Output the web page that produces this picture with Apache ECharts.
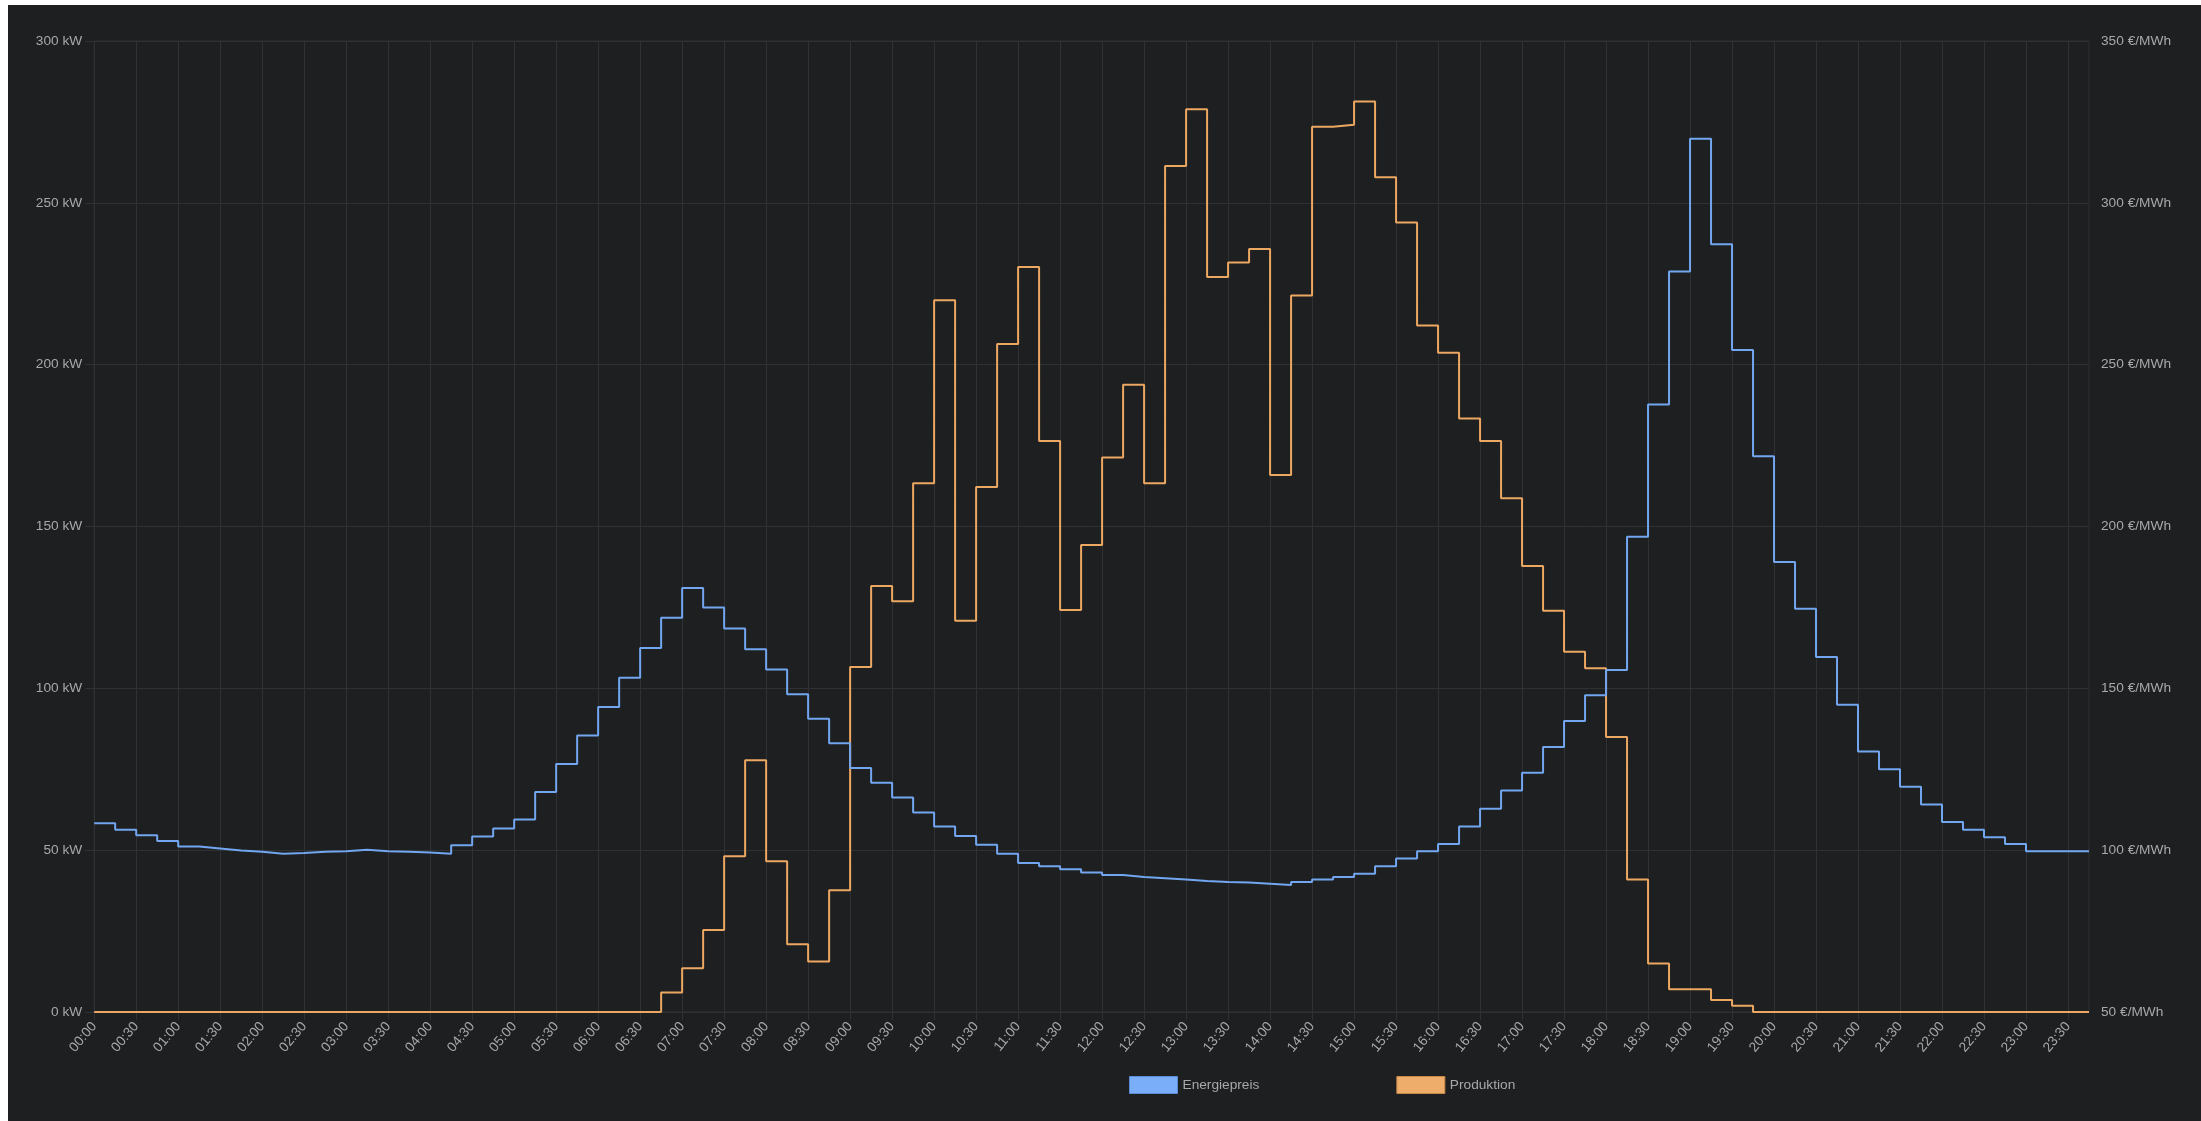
<!DOCTYPE html>
<html>
<head>
    <meta charset="utf-8">
    <title>Energiepreis / Produktion</title>
    <script src="https://cdn.jsdelivr.net/npm/echarts@6/dist/echarts.min.js"></script>
    <style>
        body { margin: 0; background: #ffffff; }
        #main { position: absolute; left: 8px; top: 5px; width: 2193px; height: 1116px; background: #1e1f21; }
    </style>
</head>
<body>
    <div id="main"></div>
    <script>
        // Zeitachse, 15-Minuten-Raster
        var times = [
            '00:00','00:15','00:30','00:45','01:00','01:15','01:30','01:45',
            '02:00','02:15','02:30','02:45','03:00','03:15','03:30','03:45',
            '04:00','04:15','04:30','04:45','05:00','05:15','05:30','05:45',
            '06:00','06:15','06:30','06:45','07:00','07:15','07:30','07:45',
            '08:00','08:15','08:30','08:45','09:00','09:15','09:30','09:45',
            '10:00','10:15','10:30','10:45','11:00','11:15','11:30','11:45',
            '12:00','12:15','12:30','12:45','13:00','13:15','13:30','13:45',
            '14:00','14:15','14:30','14:45','15:00','15:15','15:30','15:45',
            '16:00','16:15','16:30','16:45','17:00','17:15','17:30','17:45',
            '18:00','18:15','18:30','18:45','19:00','19:15','19:30','19:45',
            '20:00','20:15','20:30','20:45','21:00','21:15','21:30','21:45',
            '22:00','22:15','22:30','22:45','23:00','23:15','23:30','23:45'
        ];

        // Energiepreis in €/MWh
        var energiepreis = [
            108.3, 106.3, 104.6, 102.8, 101.1, 100.5, 99.9, 99.5,
            98.9, 99.1, 99.5, 99.7, 100.1, 99.7, 99.5, 99.3,
            98.9, 101.5, 104.2, 106.7, 109.5, 118.0, 126.6, 135.4,
            144.2, 153.3, 162.5, 171.8, 181.0, 175.0, 168.5, 162.1,
            155.8, 148.2, 140.6, 133.0, 125.4, 120.8, 116.3, 111.6,
            107.3, 104.4, 101.7, 98.9, 96.0, 95.0, 94.1, 93.1,
            92.3, 91.7, 91.3, 90.9, 90.5, 90.2, 90.0, 89.6,
            89.2, 90.2, 90.9, 91.7, 92.7, 95.0, 97.4, 99.7,
            101.9, 107.3, 112.8, 118.4, 123.9, 131.9, 139.9, 147.9,
            155.7, 196.8, 237.7, 278.8, 319.8, 287.2, 254.5, 221.7,
            189.0, 174.6, 159.7, 144.9, 130.5, 125.0, 119.6, 114.1,
            108.7, 106.3, 104.0, 101.9, 99.7, 99.7, 99.7, 99.7
        ];

        // Produktion in kW (letzter Wert fehlt)
        var produktion = [
            0, 0, 0, 0, 0, 0, 0, 0,
            0, 0, 0, 0, 0, 0, 0, 0,
            0, 0, 0, 0, 0, 0, 0, 0,
            0, 0, 0, 6.0, 13.5, 25.3, 48.1, 77.8,
            46.6, 20.9, 15.6, 37.6, 106.6, 131.6, 126.9, 163.4,
            219.9, 120.9, 162.2, 206.4, 230.2, 176.4, 124.2, 144.3,
            171.3, 193.8, 163.4, 261.4, 278.9, 227.1, 231.6, 235.7,
            165.9, 221.4, 273.5, 274.1, 281.3, 257.9, 243.9, 212.1,
            203.7, 183.4, 176.4, 158.7, 137.8, 124.0, 111.3, 106.2,
            85.0, 40.9, 15.0, 7.0, 7.0, 3.7, 1.9, 0,
            0, 0, 0, 0, 0, 0, 0, 0,
            0, 0, 0, 0, 0, 0, 0, null
        ];

        var gridColor = '#303134';
        var textColor = '#a8a8a8';
        var fontFamily = 'Liberation Sans, Arial, sans-serif';

        var myChart = echarts.init(document.getElementById('main'));

        var option = {
            animation: false,
            backgroundColor: '#1e1f21',
            grid: {
                left: 86.2,
                right: 112,
                top: 36,
                bottom: 109,
                show: true,
                borderColor: gridColor,
                borderWidth: 1
            },
            legend: {
                left: 1121,
                top: 1071,
                padding: 0,
                icon: 'rect',
                itemWidth: 48,
                itemHeight: 17,
                itemGap: 137,
                textStyle: { color: textColor, fontSize: 13.7, fontFamily: fontFamily },
                data: [
                    { name: 'Energiepreis', itemStyle: { color: '#7aaef8', borderColor: '#5a8cd6', borderWidth: 1 } },
                    { name: 'Produktion', itemStyle: { color: '#efad6b', borderColor: '#c78948', borderWidth: 1 } }
                ]
            },
            xAxis: {
                type: 'category',
                boundaryGap: false,
                data: times,
                axisLine: { show: false },
                axisTick: { show: true, interval: 1, length: 8, lineStyle: { color: gridColor } },
                axisLabel: {
                    interval: 1,
                    rotate: 50,
                    margin: 12,
                    color: textColor,
                    fontSize: 13.7,
                    fontFamily: fontFamily
                },
                splitLine: { show: true, interval: 1, lineStyle: { color: gridColor, width: 1 } }
            },
            yAxis: [
                {
                    type: 'value',
                    min: 0,
                    max: 300,
                    interval: 50,
                    axisLine: { show: false },
                    axisTick: { show: true, length: 9, lineStyle: { color: gridColor } },
                    axisLabel: {
                        formatter: '{value} kW',
                        margin: 12,
                        color: textColor,
                        fontSize: 13.7,
                        fontFamily: fontFamily
                    },
                    splitLine: { show: true, lineStyle: { color: gridColor, width: 1 } }
                },
                {
                    type: 'value',
                    min: 50,
                    max: 350,
                    interval: 50,
                    position: 'right',
                    axisLine: { show: false },
                    axisTick: { show: false },
                    axisLabel: {
                        formatter: '{value} €/MWh',
                        margin: 12,
                        color: textColor,
                        fontSize: 13.7,
                        fontFamily: fontFamily
                    },
                    splitLine: { show: false }
                }
            ],
            series: [
                {
                    name: 'Produktion',
                    type: 'line',
                    yAxisIndex: 0,
                    step: 'end',
                    showSymbol: false,
                    lineStyle: { color: '#eca762', width: 2 },
                    itemStyle: { color: '#efad6b' },
                    data: produktion
                },
                {
                    name: 'Energiepreis',
                    type: 'line',
                    yAxisIndex: 1,
                    step: 'end',
                    showSymbol: false,
                    lineStyle: { color: '#72a6f0', width: 2 },
                    itemStyle: { color: '#7aaef8' },
                    data: energiepreis
                }
            ]
        };

        myChart.setOption(option);
    </script>
</body>
</html>
